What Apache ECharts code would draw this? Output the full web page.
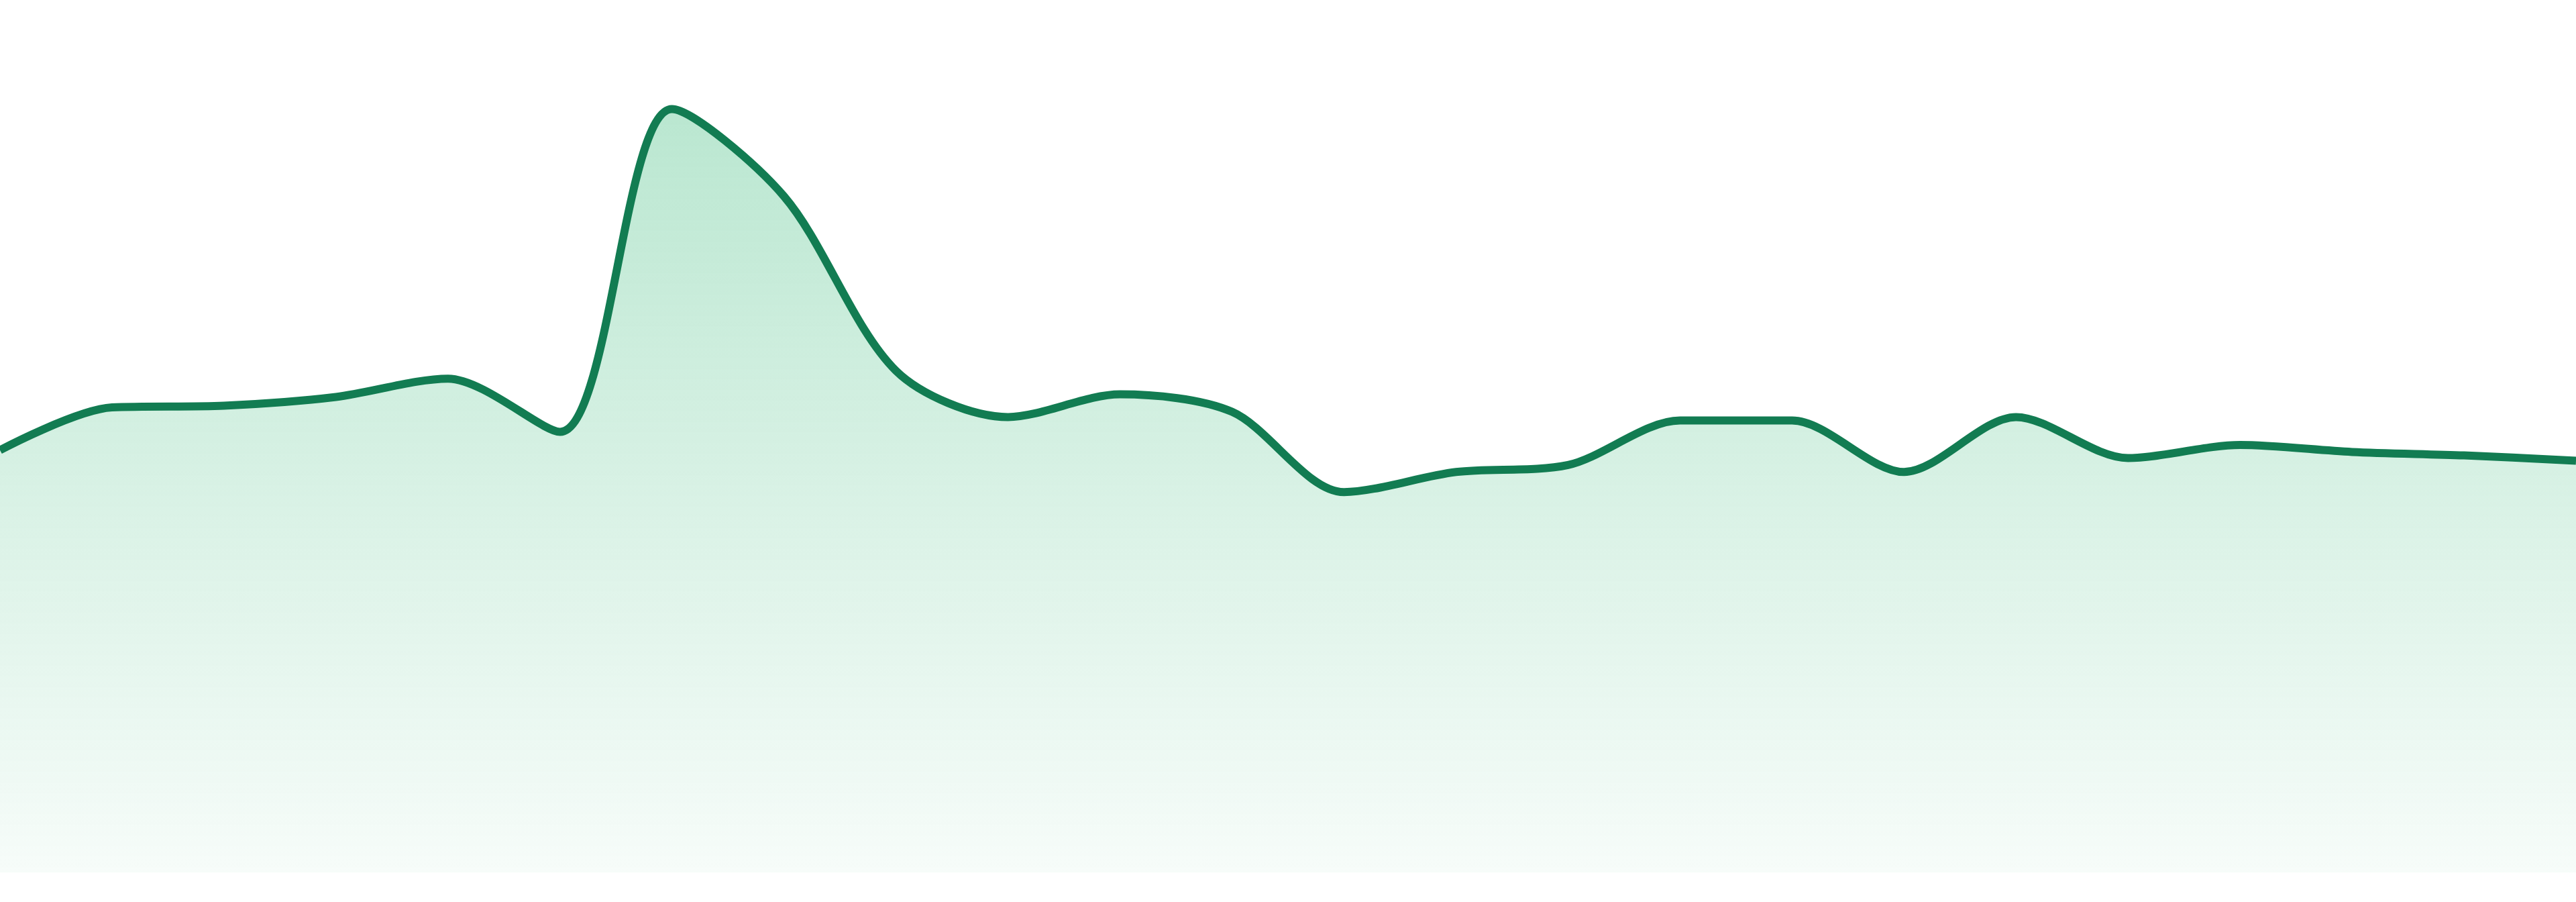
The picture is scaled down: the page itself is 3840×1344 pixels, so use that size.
<!DOCTYPE html>
<html>
<head>
<meta charset="utf-8">
<title>area</title>
<script src="https://cdn.jsdelivr.net/npm/echarts@6/dist/echarts.min.js"></script>
<style>
    html, body { margin: 0; padding: 0; background: #ffffff; }
    #chart { width: 3840px; height: 1344px; }
</style>
</head>
<body>
<div id="chart"></div>
<script>
// categories (no labels shown in the picture)
var categories = ['1', '2', '3', '4', '5', '6', '7', '8', '9', '10', '11', '12',
    '13', '14', '15', '16', '17', '18', '19', '20', '21', '22', '23', '24'];

// values, 0-100 scale
var values = [48.4, 53.3, 53.5, 54.5, 56.6, 50.5, 87.5, 77.5, 57.5, 52.2, 54.8, 52.8,
    43.6, 45.9, 46.7, 51.8, 51.8, 45.9, 52.2, 47.5, 49.0, 48.2, 47.8, 47.2];

var yMin = 0;
var yMax = 100;

function plotArea() {
    var myChart = echarts.init(document.getElementById('chart'));

    var option = {
        animation: false,
        grid: {
            left: 0,
            right: 0,
            top: 0,
            bottom: 44
        },
        xAxis: {
            type: 'category',
            data: categories,
            boundaryGap: false,
            show: false
        },
        yAxis: {
            type: 'value',
            min: yMin,
            max: yMax,
            show: false
        },
        series: [{
            type: 'line',
            data: values,
            smooth: 0.3,
            symbol: 'none',
            lineStyle: {
                color: '#127c52',
                width: 12
            },
            areaStyle: {
                opacity: 1,
                color: new echarts.graphic.LinearGradient(0, 0, 0, 1, [
                    { offset: 0, color: 'rgba(40, 180, 110, 0.32)' },
                    { offset: 1, color: 'rgba(40, 180, 110, 0.04)' }
                ])
            }
        }]
    };

    myChart.setOption(option);
}

plotArea();
</script>
</body>
</html>
